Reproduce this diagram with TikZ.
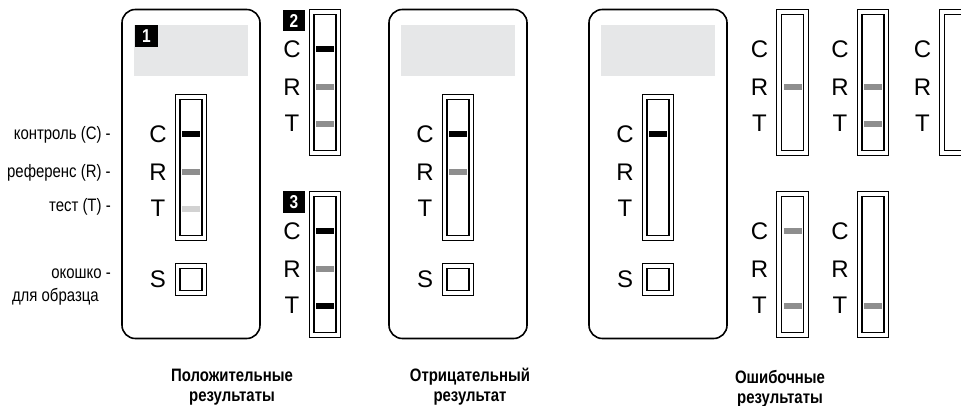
\documentclass[tikz,border=0pt]{standalone}
\usepackage{fontspec}
\setmainfont{Liberation Sans}
\newfontfamily\narrowfont[FakeStretch=0.83]{Liberation Sans}
\newfontfamily\narrowbold[FakeStretch=0.83]{Liberation Sans Bold}
\definecolor{windowgray}{HTML}{E6E7E8}
\definecolor{bandgray}{HTML}{8E8E8E}
\definecolor{bandlight}{HTML}{D2D2D2}

\begin{document}
\begin{tikzpicture}[x=0.75pt,y=-0.75pt,
    card/.style={draw,line width=1.2pt,rounded corners=10pt},
    window/.style={fill=windowgray},
    strip/.style={draw,double,line width=1pt,double distance=2.6pt},
    letter/.style={font=\fontsize{18}{20}\selectfont,inner sep=0pt},
    sidelabel/.style={font=\narrowfont\fontsize{13.5}{15}\selectfont,anchor=east,inner sep=0pt},
    caption/.style={font=\narrowbold\fontsize{13.5}{14.8}\selectfont,align=center},
    number/.style={fill=black,text=white,inner sep=0pt,
        minimum width=17pt,minimum height=16pt,
        font=\narrowbold\fontsize{14}{14}\selectfont}]
    \useasboundingbox (0,0) rectangle (961,406);
    \clip (0,0) rectangle (961,406);

    \foreach \x/\n in {191/k1,458/k2,658/k3} {
        \draw[card] (\x-69,9.5) rectangle (\x+69,338.5);
        \fill[window] (\x-57,25) rectangle (\x+57,76);
        \draw[strip] (\x-13.3,266.2) rectangle (\x+13.3,292.8);
        \node[letter] (\n-S) at (\x-33,279.5) {S};
    }

    \foreach \x/\y/\n/\cc/\rc/\tc in {
        191/94/k1/black/bandgray/bandlight,
        325/9/p2/black/bandgray/bandgray,
        325/191/p3/black/bandgray/black,
        458/94/k2/black/bandgray/none,
        658/94/k3/black/none/none,
        792.5/9/e1/none/bandgray/none,
        873/9/e2/none/bandgray/bandgray,
        955.5/9/e3/none/none/none,
        792.5/191/e4/bandgray/none/bandgray,
        873/191/e5/none/none/bandgray} {
        \draw[strip] (\x-13.3,\y+3.2) rectangle (\x+13.3,\y+143.8);
        \fill[fill=\cc] (\x-9,\y+37) rectangle (\x+9,\y+43);
        \fill[fill=\rc] (\x-9,\y+75) rectangle (\x+9,\y+81);
        \fill[fill=\tc] (\x-9,\y+112) rectangle (\x+9,\y+118);
        \node[letter] (\n-C) at (\x-33,\y+40) {C};
        \node[letter] (\n-R) at (\x-33,\y+78) {R};
        \node[letter] (\n-T) at (\x-33,\y+114) {T};
    }

    \node[number] (num1) at (146.5,36) {1};
    \node[number] (num2) at (294,20.5) {2};
    \node[number] (num3) at (294,202) {3};

    \node[sidelabel] (control) at (111,135) {контроль (C) -};
    \node[sidelabel] (reference) at (111,172.5) {референс (R) -};
    \node[sidelabel] (test) at (111,207) {тест (T) -};
    \node[sidelabel] (window) at (111,274) {окошко -};
    \node[sidelabel] (sample) at (99,297) {для образца};

    \node[caption] (positive) at (232,387) {Положительные\\результаты};
    \node[caption] (negative) at (470,387) {Отрицательный\\результат};
    \node[caption] (invalid) at (780,388.5) {Ошибочные\\результаты};
\end{tikzpicture}
\end{document}
